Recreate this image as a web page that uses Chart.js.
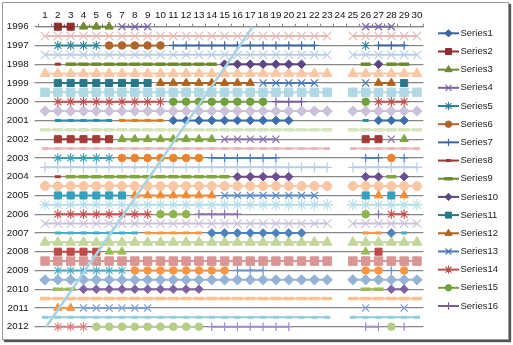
<!DOCTYPE html>
<html>
<head>
<meta charset="utf-8">
<script src="https://cdn.jsdelivr.net/npm/chart.js@4.4.1/dist/chart.umd.min.js"></script>
<style>
  html, body { margin: 0; padding: 0; background: #fff; }
  body { width: 513px; height: 345px; position: relative; overflow: hidden; }
  #frame { position: absolute; left: 2px; top: 2px; width: 505px; height: 336px;
           border: 1px solid #9a9a9a; box-shadow: 2px 2px 1px #555; background: #fff; }
  #chart { position: absolute; left: 0; top: 0; }
</style>
</head>
<body>
<div id="frame"></div>
<canvas id="chart" width="513" height="345"></canvas>
<script>
// ============ DATA ============

const xLabels = [1, 2, 3, 4, 5, 6, 7, 8, 9, 10, 11, 12, 13, 14, 15, 16, 17, 18, 19, 20,
                 21, 22, 23, 24, 25, 26, 27, 28, 29, 30];
const yearTicks = [1996, 1997, 1998, 1999, 2000, 2001, 2002, 2003, 2004, 2005, 2006,
                   2007, 2008, 2009, 2010, 2011, 2012];
const legendNames = ['Series1', 'Series2', 'Series3', 'Series4', 'Series5', 'Series6',
                     'Series7', 'Series8', 'Series9', 'Series10', 'Series11', 'Series12',
                     'Series13', 'Series14', 'Series15', 'Series16'];

// year rows: [style, first x, last x]
const row1996 = [['s2', 2, 3], ['s3', 4, 6], ['s4', 7, 9], ['s4', 26, 28]];
const row1997 = [['s5', 2, 5], ['s6', 6, 10], ['s7', 11, 22], ['s5', 26, 26], ['s7', 27, 29]];
const row1998 = [['s8', 2, 2], ['s9', 3, 14], ['s10', 15, 21], ['s9', 26, 26], ['s10', 27, 27], ['s9', 28, 29]];
const row1999 = [['s11', 2, 9], ['s12', 10, 17], ['s13', 18, 22], ['s13', 26, 26], ['s12', 27, 28], ['s11', 29, 29]];
const row2000 = [['s14', 2, 10], ['s15', 11, 18], ['s16', 19, 21], ['s15', 26, 26], ['s14', 27, 29]];
const row2001 = [['b1', 2, 6], ['b2', 7, 10], ['b3', 11, 20], ['b1', 26, 26], ['b3', 27, 29]];
const row2002 = [['b4', 2, 6], ['b5', 7, 14], ['b6', 15, 19], ['b4', 26, 27], ['b6', 28, 28], ['b5', 29, 29]];
const row2003 = [['b7', 2, 6], ['b8', 7, 13], ['b9', 14, 19], ['b9', 26, 27], ['b8', 28, 28], ['b9', 29, 29]];
const row2004 = [['b10', 2, 2], ['b11', 3, 15], ['b12', 16, 20], ['b12', 26, 27], ['b11', 28, 28], ['b12', 29, 29]];
const row2005 = [['b13', 2, 7], ['b14', 8, 14], ['b15', 15, 22], ['b13', 26, 26], ['b14', 27, 27], ['b13', 28, 28], ['b14', 29, 29]];
const row2006 = [['b16', 2, 9], ['b17', 10, 12], ['b18', 13, 16], ['b17', 26, 26], ['b18', 27, 27], ['b16', 28, 29]];
const row2007 = [['c1', 2, 8], ['c2', 9, 13], ['c3', 14, 21], ['c2', 26, 27], ['c3', 28, 28], ['c1', 29, 29]];
const row2008 = [['c4', 2, 5], ['c5', 6, 7], ['c5', 26, 26], ['c4', 27, 27]];
const row2009 = [['c6', 2, 7], ['c7', 8, 15], ['c8', 16, 18], ['c7', 26, 27], ['c8', 28, 28], ['c7', 29, 29]];
const row2010 = [['c9', 2, 3], ['c10', 4, 13], ['c9', 26, 27], ['c10', 28, 29]];
const row2011 = [['c11', 2, 3], ['c12', 4, 9], ['c12', 26, 26], ['c12', 29, 29]];
const row2012 = [['c13', 2, 4], ['c14', 5, 13], ['c15', 14, 20], ['c15', 26, 27], ['c14', 28, 28], ['c15', 29, 29]];

const yearRows = [
  [1996, row1996], [1997, row1997], [1998, row1998], [1999, row1999], [2000, row2000],
  [2001, row2001], [2002, row2002], [2003, row2003], [2004, row2004], [2005, row2005],
  [2006, row2006], [2007, row2007], [2008, row2008], [2009, row2009], [2010, row2010],
  [2011, row2011], [2012, row2012]
];

// half-year rows: one light series each, running over both blocks of columns
const halfRows = [
  [1996.5, 'l1'], [1997.5, 'l2'], [1998.5, 'l3'], [1999.5, 'l4'], [2000.5, 'l5'],
  [2001.5, 'l6'], [2002.5, 'l7'], [2003.5, 'l8'], [2004.5, 'l9'], [2005.5, 'l10'],
  [2006.5, 'l11'], [2007.5, 'l12'], [2008.5, 'l13'], [2009.5, 'l14'], [2010.5, 'l15'],
  [2011.5, 'l16']
];
const halfSpans = [[1, 23], [25, 30]];

const diagonalX = [1.1, 17.2];
const diagonalY = [2012, 1996];

// ============ STYLES ============

const STY = {
  s1: ['#3A64A0', 'dia'], s2: ['#8E2F2D', 'sq'], s3: ['#6D8A32', 'tri'], s4: ['#7A63A2', 'x'],
  s5: ['#2E8599', 'star'], s6: ['#B0652A', 'circ'], s7: ['#3B67A5', 'plus'], s8: ['#9B3835', 'sdash'],
  s9: ['#6D8A32', 'ldash'], s10: ['#5D4682', 'dia'], s11: ['#2A778C', 'sq'], s12: ['#B0621F', 'tri'],
  s13: ['#4C78B8', 'x'], s14: ['#BF4F4C', 'star'], s15: ['#72A03C', 'circ'], s16: ['#7A5C9E', 'plus'],

  b1: ['#2F8CA6', 'sdash'], b2: ['#E07B24', 'sdash'], b3: ['#3C6EB0', 'dia'],
  b4: ['#A33B37', 'sq'], b5: ['#7FA540', 'tri'], b6: ['#8B74AE', 'x'],
  b7: ['#3A9DB8', 'star'], b8: ['#E8832F', 'circ'], b9: ['#4D7EC0', 'plus'],
  b10: ['#A33B37', 'sdash'], b11: ['#7FA540', 'ldash'], b12: ['#6A4C90', 'dia'],
  b13: ['#33A0BE', 'sq'], b14: ['#EE8B36', 'tri'], b15: ['#5B8BCC', 'x'],
  b16: ['#C0504D', 'star'], b17: ['#8DB44E', 'circ'], b18: ['#8E72B6', 'plus'],

  c1: ['#4BACC6', 'sdash'], c2: ['#F79646', 'sdash'], c3: ['#4F81BD', 'dia'],
  c4: ['#BE4B48', 'sq'], c5: ['#9BBB59', 'tri'],
  c6: ['#4BACC6', 'star'], c7: ['#F79646', 'circ'], c8: ['#6C93CF', 'plus'],
  c9: ['#9BBB59', 'ldash'], c10: ['#8064A2', 'dia'],
  c11: ['#F79646', 'tri'], c12: ['#7BA0D6', 'x'],
  c13: ['#D9807E', 'star'], c14: ['#B4CD87', 'circ'], c15: ['#A48BC6', 'plus'],

  l1: ['#E6B9B8', 'x'], l2: ['#B9CDE5', 'x'], l3: ['#FAC7A5', 'tri'], l4: ['#B0D8E4', 'sq'],
  l5: ['#CCC1DA', 'dia'], l6: ['#D7E4BD', 'ldash'], l7: ['#E6B9B8', 'sdash'], l8: ['#B9CDE5', 'plus'],
  l9: ['#FAC7A5', 'circ'], l10: ['#B7DEE8', 'star'], l11: ['#CCC1DA', 'x'], l12: ['#C3D69B', 'tri'],
  l13: ['#D99694', 'sq'], l14: ['#95B3D7', 'dia'], l15: ['#FAC090', 'ldash'], l16: ['#93CDDD', 'sdash']
};

const MARK = {
  sq:    { style: 'rect',      r: 5,   bw: 1 },
  tri:   { style: 'triangle',  r: 4.8, bw: 1 },
  dia:   { style: 'rectRot',   r: 4.3, bw: 1 },
  circ:  { style: 'circle',    r: 3.8, bw: 1 },
  x:     { style: 'crossRot',  r: 5,   bw: 1.2 },
  star:  { style: 'star',      r: 4.8, bw: 1.1 },
  plus:  { style: 'cross',     r: 4.3, bw: 1.2 },
  sdash: { style: 'line',      r: 3,   bw: 3 },
  ldash: { style: 'line',      r: 5,   bw: 3.5 }
};

const GRID = '#888888';

// ============ DATASETS ============

const datasets = [];

datasets.push({
  data: diagonalX.map((x, i) => ({ x, y: diagonalY[i] })),
  borderColor: '#A8D3E2', borderWidth: 2.5, pointRadius: 0, clip: false
});

function addRun(key, y, from, to, big) {
  const [color, marker] = STY[key];
  const m = MARK[marker];
  const scale = big && m.style !== 'line' ? 1.2 : 1;
  datasets.push({
    data: xLabels.filter(v => v >= from && v <= to).map(v => ({ x: v, y })),
    borderColor: color,
    backgroundColor: color,
    borderWidth: 2,
    pointStyle: m.style,
    pointRadius: m.r * scale,
    pointBorderWidth: m.bw,
    pointBackgroundColor: color,
    pointBorderColor: color,
    clip: false
  });
}

yearRows.forEach(([year, runs]) => {
  runs.forEach(([key, from, to]) => addRun(key, year, from, to, false));
});
halfRows.forEach(([y, key]) => {
  halfSpans.forEach(([from, to]) => addRun(key, y, from, to, true));
});

// ============ LEGEND ============

const legendKeys = ['s1', 's2', 's3', 's4', 's5', 's6', 's7', 's8',
                    's9', 's10', 's11', 's12', 's13', 's14', 's15', 's16'];

const excelLegend = {
  id: 'excelLegend',
  afterDraw(chart) {
    const ctx = chart.ctx;
    ctx.save();
    legendKeys.forEach((key, i) => {
      const y = 33.3 + i * 18.18;
      const [color, marker] = STY[key];
      const m = MARK[marker];
      ctx.strokeStyle = color;
      ctx.fillStyle = color;
      ctx.lineWidth = 2;
      ctx.beginPath();
      ctx.moveTo(438, y);
      ctx.lineTo(459, y);
      ctx.stroke();
      ctx.lineWidth = m.bw;
      Chart.helpers.drawPoint(ctx, { pointStyle: m.style, radius: m.r * 0.85, borderWidth: m.bw, rotation: 0 }, 448.5, y);
      ctx.fillStyle = '#1a1a1a';
      ctx.font = '9.5px "Liberation Sans", Arial, sans-serif';
      ctx.textAlign = 'left';
      ctx.textBaseline = 'middle';
      ctx.fillText(legendNames[i], 460.5, y);
    });
    ctx.restore();
  }
};

// ============ CHART ============

Chart.defaults.font.family = '"Liberation Sans", Arial, sans-serif';
Chart.defaults.font.size = 9.8;
Chart.defaults.color = '#111';

new Chart(document.getElementById('chart'), {
  type: 'line',
  data: { datasets },
  options: {
    responsive: false,
    animation: false,
    events: [],
    layout: { padding: { left: 0, top: 0, right: 89.6, bottom: 18.3 } },
    elements: { line: { tension: 0 } },
    plugins: { legend: { display: false }, tooltip: { enabled: false } },
    scales: {
      x: {
        type: 'linear',
        position: 'top',
        min: 0.5,
        max: 30.5,
        afterBuildTicks: s => { s.ticks = xLabels.map(v => ({ value: v })); },
        afterFit: s => { s.height = 26.7; },
        grid: { offset: true, drawOnChartArea: false, drawTicks: true, tickLength: 3, color: GRID, lineWidth: 1 },
        border: { display: true, color: GRID, width: 1.25 },
        ticks: { padding: 3, maxRotation: 0, autoSkip: false, callback: v => String(v) }
      },
      y: {
        type: 'linear',
        reverse: true,
        min: 1996,
        max: 2012,
        afterBuildTicks: s => { s.ticks = yearTicks.map(v => ({ value: v })); },
        afterFit: s => { s.width = 38.6; },
        grid: { color: GRID, lineWidth: 1.3, tickLength: 4 },
        border: { display: false },
        ticks: { padding: 6, autoSkip: false, callback: v => String(v) }
      }
    }
  },
  plugins: [excelLegend]
});
</script>
</body>
</html>
